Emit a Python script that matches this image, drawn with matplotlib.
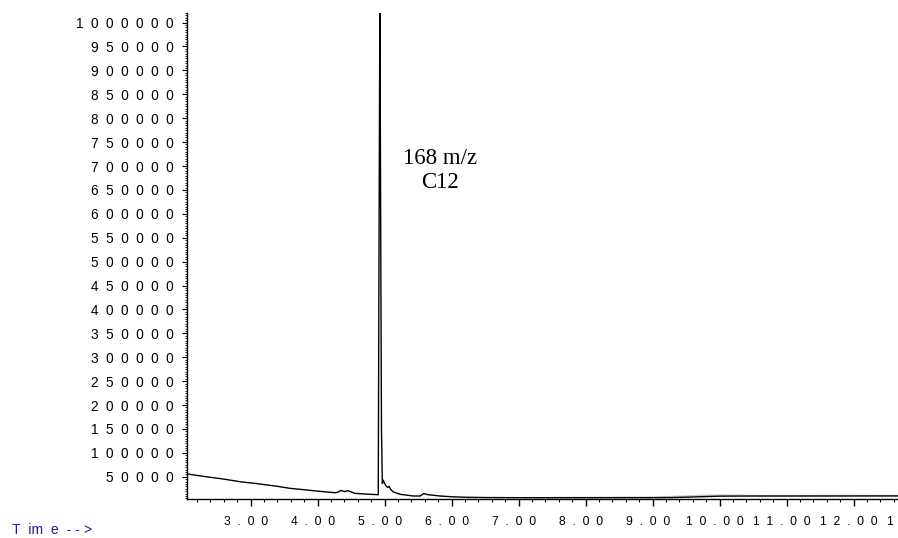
import matplotlib
matplotlib.use("Agg")
import matplotlib.pyplot as plt
import matplotlib.transforms as mtransforms
from matplotlib.ticker import FixedLocator, MultipleLocator, FuncFormatter

# Retention time (min) and abundance
time_min = [2.054, 2.3, 2.59, 2.84, 3.1, 3.4, 3.586, 3.736, 4.0, 4.258, 4.30,
            4.35, 4.40, 4.45, 4.50, 4.55, 4.70, 4.900, 4.904, 4.915, 4.928,
            4.94, 4.952, 4.965, 4.979, 5.0, 5.02, 5.045, 5.065, 5.09, 5.13,
            5.23, 5.43, 5.53, 5.58, 5.65, 5.83, 5.98, 6.2, 6.5, 7.0, 7.5, 8.0,
            8.5, 9.0, 9.3, 9.6, 10.0, 10.5, 11.0, 12.0, 13.2]
abundance = [55900, 50800, 45400, 39700, 35600, 30000, 25900, 23850, 20000,
             16700, 17500, 21500, 19000, 21000, 18500, 15500, 14000, 12500,
             12500, 500000, 1050000, 600000, 150000, 36000, 43000, 36000,
             31000, 27500, 30000, 23500, 18200, 13400, 9800, 9800, 15000,
             12500, 9800, 8400, 7200, 6600, 6300, 6200, 6200, 6300, 6300,
             6600, 7800, 9500, 9800, 9800, 9900, 10000]

# faint second trace near the baseline
time2 = [7.5, 8.0, 8.5, 9.0, 9.3, 9.6, 10.0, 10.3, 10.6, 11.0, 12.0, 13.2]
abundance2 = [6800, 7000, 7200, 7600, 8800, 10500, 12000, 11500, 10500,
              10800, 11000, 11200]

y_ticks = list(range(50000, 1000001, 50000))
x_ticks = [3, 4, 5, 6, 7, 8, 9, 10, 11, 12, 13]

W, H = 898, 538
fig = plt.figure(figsize=(W / 100, H / 100), dpi=100)

x0, x1 = 2.054, 13.2
px_per_min = 67.0
left_px, bottom_px, top_px = 187.3, 498.5, 13
ax = fig.add_axes([left_px / W, (H - bottom_px) / H,
                   (x1 - x0) * px_per_min / W, (bottom_px - top_px) / H])

ax.plot(time2, abundance2, color="#c8c8c8", lw=1.0)
ax.plot(time_min, abundance, color="black", lw=1.0)

ax.set_xlim(x0, x1)
ax.set_ylim(4600, 1020000)

for s in ("top", "right"):
    ax.spines[s].set_visible(False)
ax.spines["left"].set_linewidth(1.0)
ax.spines["bottom"].set_linewidth(1.0)

spaced = lambda s, sep="  ": sep.join(s)

ax.yaxis.set_major_locator(FixedLocator(y_ticks))
ax.yaxis.set_minor_locator(MultipleLocator(5000))
ax.yaxis.set_major_formatter(FuncFormatter(lambda v, p: spaced(f"{int(round(v))}")))
ax.xaxis.set_major_locator(FixedLocator(x_ticks))
ax.xaxis.set_minor_locator(MultipleLocator(0.2))
ax.xaxis.set_major_formatter(FuncFormatter(lambda v, p: spaced(f"{v:.2f}")))

ax.tick_params(axis="y", which="major", length=3.6, width=0.8, pad=6.5,
               labelsize=9.8, direction="out")
ax.tick_params(axis="y", which="minor", length=1.8, width=0.6, direction="out")
ax.tick_params(axis="x", which="major", length=4.7, width=1.0, pad=8.0,
               labelsize=8.7, direction="out")
ax.tick_params(axis="x", which="minor", length=2.5, width=0.8, direction="out")

for lab in ax.get_yticklabels() + ax.get_xticklabels():
    lab.set_family("Liberation Sans")

# tick labels sit a little left of their ticks
shift = mtransforms.ScaledTranslation(-5 / 100, 0, fig.dpi_scale_trans)
for lab in ax.get_xticklabels():
    lab.set_transform(lab.get_transform() + shift)

fig.text(440 / W, 1 - 170.5 / H, "168 m/z\nC12", ha="center", va="center",
         multialignment="center", family="Liberation Serif", fontsize=16.5,
         linespacing=1.15)

fig.text(12 / W, 8 / H, "T  im  e  - - >", ha="left", va="center",
         family="Liberation Sans", fontsize=10.2, color="#1e1e9e")

fig.savefig("out.png", dpi=100)
